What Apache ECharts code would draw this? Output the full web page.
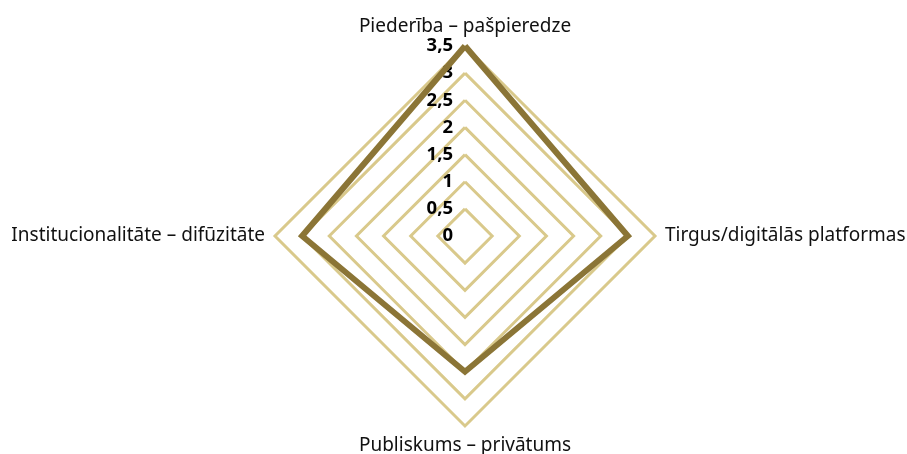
<!DOCTYPE html>
<html>
<head>
    <meta charset="utf-8">
    <title>Radar</title>
    <script src="https://cdn.jsdelivr.net/npm/echarts@6/dist/echarts.min.js"></script>
    <style type="text/css">
        html, body { margin: 0; padding: 0; background: #fff; }
        #main { width: 907px; height: 454px; }
    </style>
</head>
<body>
<div id="main"></div>
<script type="text/javascript">
    // axis names, top then counterclockwise
    var axisNames = ['Piederība – pašpieredze', 'Institucionalitāte – difūzitāte', 'Publiskums – privātums', 'Tirgus/digitālās platformas'];
    var values = [3.5, 3, 2.5, 3];
    var tickValues = [0, 0.5, 1, 1.5, 2, 2.5, 3, 3.5];

    var maxVal = 3.5;
    var font = 'Noto Sans';

    var chart = echarts.init(document.getElementById('main'));
    chart.setOption({
        animation: false,
        radar: {
            center: [465, 236],
            radius: 190,
            startAngle: 90,
            splitNumber: tickValues.length - 1,
            shape: 'polygon',
            nameGap: 10,
            axisName: { color: '#111', fontSize: 19, fontFamily: font },
            indicator: axisNames.map(function (n) { return { name: n, min: 0, max: maxVal }; }),
            axisLine: { show: false },
            axisTick: { show: false },
            axisLabel: { show: false },
            splitArea: { show: false },
            splitLine: { lineStyle: { color: '#D9C98B', width: 3 } }
        },
        // axis only used for the tick labels on the vertical spoke
        grid: { left: 465, top: 46, width: 10, bottom: 454 - 236 },
        xAxis: { type: 'value', show: false },
        yAxis: {
            type: 'value', min: 0, max: maxVal, interval: 0.5,
            axisLine: { show: false }, axisTick: { show: false }, splitLine: { show: false },
            axisLabel: {
                margin: 12, color: '#000', fontWeight: 'bold', fontSize: 18.5, fontFamily: font,
                formatter: function (v) { return String(v).replace('.', ','); }
            }
        },
        series: [{
            type: 'radar',
            symbol: 'none',
            lineStyle: { color: '#8B7536', width: 6, join: 'miter' },
            data: [{ value: values }]
        }]
    });
</script>
</body>
</html>
